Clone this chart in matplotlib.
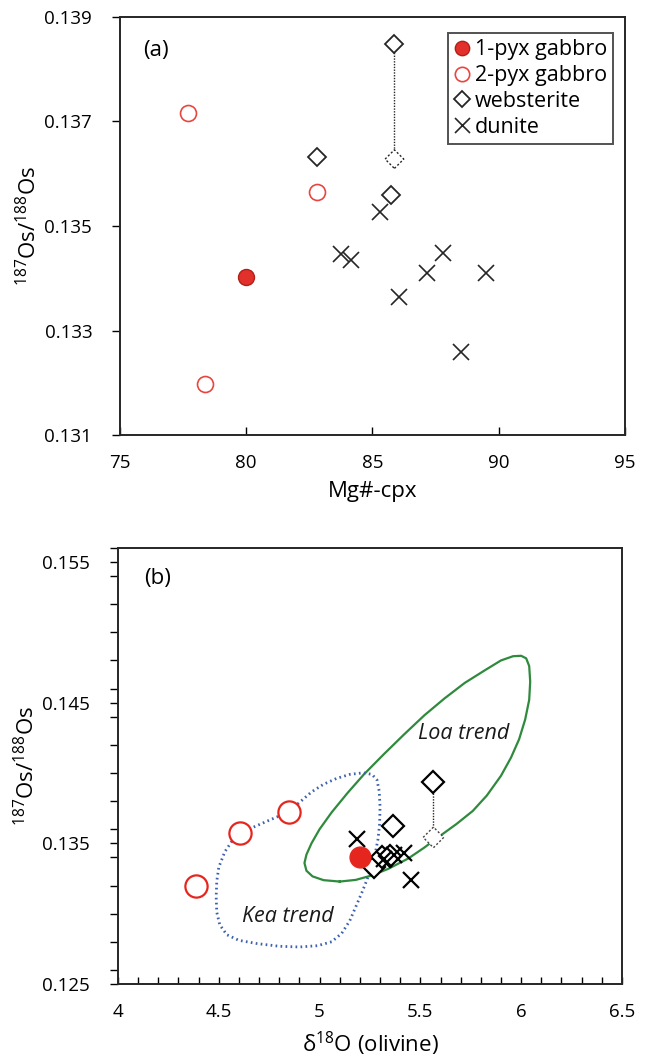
import numpy as np
import matplotlib
matplotlib.use("Agg")
import matplotlib.pyplot as plt
from matplotlib.ticker import MultipleLocator, FixedLocator

plt.rcParams['font.family'] = ['Open Sans', 'DejaVu Sans']
plt.rcParams['mathtext.fontset'] = 'custom'
plt.rcParams['mathtext.rm'] = 'Open Sans'
plt.rcParams['mathtext.default'] = 'rm'

# ---- panel (a): Mg#-cpx vs 187Os/188Os
a_gab1_mg = [80.0]
a_gab1_os = [0.13403]
a_gab2_mg = [77.7, 82.8, 78.35]
a_gab2_os = [0.13717, 0.13566, 0.13198]
a_web_mg = [82.8, 85.87, 85.74]
a_web_os = [0.13632, 0.13848, 0.13559]
a_web_alt_mg = [85.87]
a_web_alt_os = [0.13628]
a_dun_mg = [85.3, 83.77, 84.17, 87.79, 87.17, 89.51, 86.06, 88.52]
a_dun_os = [0.13527, 0.13446, 0.13435, 0.13448, 0.13410, 0.13410, 0.13365, 0.13259]

# ---- panel (b): d18O olivine vs 187Os/188Os
b_gab1_d18 = [5.20]
b_gab1_os = [0.13404]
b_gab2_d18 = [4.386, 4.606, 4.846]
b_gab2_os = [0.13196, 0.13570, 0.13722]
b_web_d18 = [5.27, 5.31, 5.35, 5.366, 5.565]
b_web_os = [0.13328, 0.13400, 0.13410, 0.13625, 0.13937]
b_web_alt_d18 = [5.565]
b_web_alt_os = [0.13542]
b_dun_d18 = [5.185, 5.32, 5.369, 5.419, 5.452]
b_dun_os = [0.13530, 0.13390, 0.13420, 0.13430, 0.13238]

# field outlines
loa_x = [5.10, 5.18, 5.26, 5.34, 5.44, 5.52, 5.60, 5.68, 5.76, 5.83, 5.90, 5.95, 5.99,
         6.02, 6.04, 6.045, 6.04, 6.025, 6.00, 5.96, 5.90, 5.82, 5.72, 5.62, 5.52, 5.42,
         5.32, 5.22, 5.14, 5.06, 5.00, 4.96, 4.935, 4.925, 4.935, 4.965, 5.02, 5.10]
loa_y = [0.13228, 0.13240, 0.13272, 0.13318, 0.13392, 0.13470, 0.13555, 0.13638, 0.13730,
         0.13840, 0.13980, 0.14110, 0.14240, 0.14380, 0.14520, 0.14650, 0.14760, 0.14815,
         0.14833, 0.14830, 0.14800, 0.14730, 0.14640, 0.14530, 0.14410, 0.14275, 0.14135,
         0.13990, 0.13860, 0.13720, 0.13600, 0.13500, 0.13420, 0.13360, 0.13305, 0.13265,
         0.13238, 0.13228]
kea_x = [4.606, 4.68, 4.76, 4.846, 4.90, 4.96, 5.02, 5.084, 5.15, 5.217, 5.26, 5.285,
         5.296, 5.300, 5.298, 5.290, 5.275, 5.255, 5.235, 5.21, 5.18, 5.15, 5.11, 5.06,
         4.99, 4.90, 4.80, 4.69, 4.60, 4.54, 4.505, 4.49, 4.487, 4.49, 4.50, 4.53, 4.57,
         4.606]
kea_y = [0.13570, 0.13620, 0.13670, 0.13722, 0.13790, 0.13865, 0.13920, 0.13961, 0.13990,
         0.14001, 0.13990, 0.13950, 0.13870, 0.13760, 0.13640, 0.13530, 0.13420, 0.13320,
         0.13240, 0.13150, 0.13050, 0.12950, 0.12860, 0.12800, 0.12772, 0.12763, 0.12768,
         0.12787, 0.12810, 0.12850, 0.12920, 0.13010, 0.13120, 0.13230, 0.13330, 0.13440,
         0.13525, 0.13570]

RED = '#e2312b'
GREEN = '#2f8a3d'
BLUE = '#3d62ad'
INK = '#262626'

fig = plt.figure(figsize=(6.57, 10.61), dpi=100)
ax1 = fig.add_axes([0.1826, 0.590, 0.7686, 0.394])
ax2 = fig.add_axes([0.1796, 0.0726, 0.767, 0.411])

oslabel = r'$^{187}$Os/$^{188}$Os'

# panel (a)
ax1.plot([a_web_mg[1], a_web_alt_mg[0]], [a_web_os[1], a_web_alt_os[0]],
         ls=(0, (1, 1)), color=INK, lw=1.0, zorder=2)
ax1.plot(a_gab1_mg, a_gab1_os, 'o', ms=11.5, mfc=RED, mec='#b0201a', mew=1.0,
         ls='none', label='1-pyx gabbro', zorder=4)
ax1.plot(a_gab2_mg, a_gab2_os, 'o', ms=11.5, mfc='white', mec='#e8463f', mew=1.2,
         ls='none', label='2-pyx gabbro', zorder=4)
ax1.plot(a_web_mg, a_web_os, 'D', ms=9.5, mfc='white', mec=INK, mew=1.3,
         ls='none', label='websterite', zorder=4)
ax1.scatter(a_web_alt_mg, a_web_alt_os, marker='D', s=9.5 ** 2, facecolors='white',
            edgecolors=INK, linewidths=1.0, linestyles=(0, (1.5, 1.5)), zorder=3)
ax1.plot(a_dun_mg, a_dun_os, 'x', ms=12, mec=INK, mew=1.2, ls='none',
         label='dunite', zorder=4)

ax1.set_xlim(75, 95)
ax1.set_ylim(0.131, 0.139)
ax1.xaxis.set_major_locator(MultipleLocator(5))
ax1.yaxis.set_major_locator(FixedLocator([0.131, 0.133, 0.135, 0.137, 0.139]))
ax1.yaxis.set_major_formatter(plt.FuncFormatter(lambda v, p: f'{v:.3f}'))
ax1.tick_params(axis='x', direction='in', length=6, width=1, pad=14, labelsize=13.5)
ax1.tick_params(axis='y', direction='out', length=6, width=1, pad=14, labelsize=13.5)
ax1.set_xlabel('Mg#-cpx', fontsize=16, labelpad=6)
ax1.set_ylabel(oslabel, fontsize=16, labelpad=2)
ax1.text(0.071, 0.921, '(a)', transform=ax1.transAxes, fontsize=16,
         ha='center', va='center')
leg = ax1.legend(loc='upper right', bbox_to_anchor=(0.977, 0.962), borderaxespad=0,
                 frameon=True, fancybox=False, fontsize=15.5, handlelength=0.7,
                 handletextpad=0.25, labelspacing=0.22, borderpad=0.3, markerscale=0.9)
leg.get_frame().set_edgecolor(INK)
leg.get_frame().set_linewidth(1.4)

# panel (b)
ax2.plot(loa_x, loa_y, color=GREEN, lw=1.6, zorder=2)
ax2.plot(kea_x, kea_y, color=BLUE, lw=2.0, ls=(0, (0.6, 1.2)), zorder=2)
ax2.plot([b_web_d18[-1], b_web_alt_d18[0]], [b_web_os[-1], b_web_alt_os[0]],
         ls=(0, (1, 1)), color=INK, lw=1.0, zorder=2)
ax2.plot(b_gab2_d18, b_gab2_os, 'o', ms=16, mfc='white', mec='#e5261f', mew=1.6,
         ls='none', zorder=4)
ax2.plot(b_web_d18, b_web_os, 'D', ms=11, mfc='white', mec='black', mew=1.6,
         ls='none', zorder=4)
ax2.plot(b_dun_d18, b_dun_os, 'x', ms=11.5, mec='black', mew=1.6, ls='none', zorder=5)
ax2.plot(b_gab1_d18, b_gab1_os, 'o', ms=15, mfc='#e5261f', mec='#e5261f', mew=1.0,
         ls='none', zorder=6)
ax2.scatter(b_web_alt_d18, b_web_alt_os, marker='D', s=10.5 ** 2, facecolors='white',
            edgecolors='#444444', linewidths=1.0, linestyles=(0, (1.5, 1.5)), zorder=4)

ax2.text(5.714, 0.1428, 'Loa trend', fontsize=15.5, style='italic', ha='center',
         va='center', color='#1a1a1a')
ax2.text(4.841, 0.1298, 'Kea trend', fontsize=15.5, style='italic', ha='center',
         va='center', color='#1a1a1a')
ax2.text(0.079, 0.929, '(b)', transform=ax2.transAxes, fontsize=16,
         ha='center', va='center')

ax2.set_xlim(4, 6.5)
ax2.set_ylim(0.125, 0.156)
ax2.xaxis.set_major_locator(MultipleLocator(0.5))
ax2.xaxis.set_minor_locator(MultipleLocator(0.1))
ax2.yaxis.set_major_locator(FixedLocator([0.125, 0.135, 0.145, 0.155]))
ax2.yaxis.set_minor_locator(MultipleLocator(0.002))
ax2.xaxis.set_major_formatter(plt.FuncFormatter(lambda v, p: f'{v:g}'))
ax2.yaxis.set_major_formatter(plt.FuncFormatter(lambda v, p: f'{v:.3f}'))
ax2.tick_params(axis='x', which='both', direction='in', length=5, width=1, pad=14,
                labelsize=13.5)
ax2.tick_params(axis='y', which='both', direction='out', length=6, width=1, pad=14,
                labelsize=13.5)
ax2.set_xlabel(r'δ$^{18}$O (olivine)', fontsize=16, labelpad=6)
ax2.set_ylabel(oslabel, fontsize=16, labelpad=2)

for ax in (ax1, ax2):
    for s in ax.spines.values():
        s.set_linewidth(1.4)
        s.set_color(INK)

fig.savefig('out.png', dpi=100)
